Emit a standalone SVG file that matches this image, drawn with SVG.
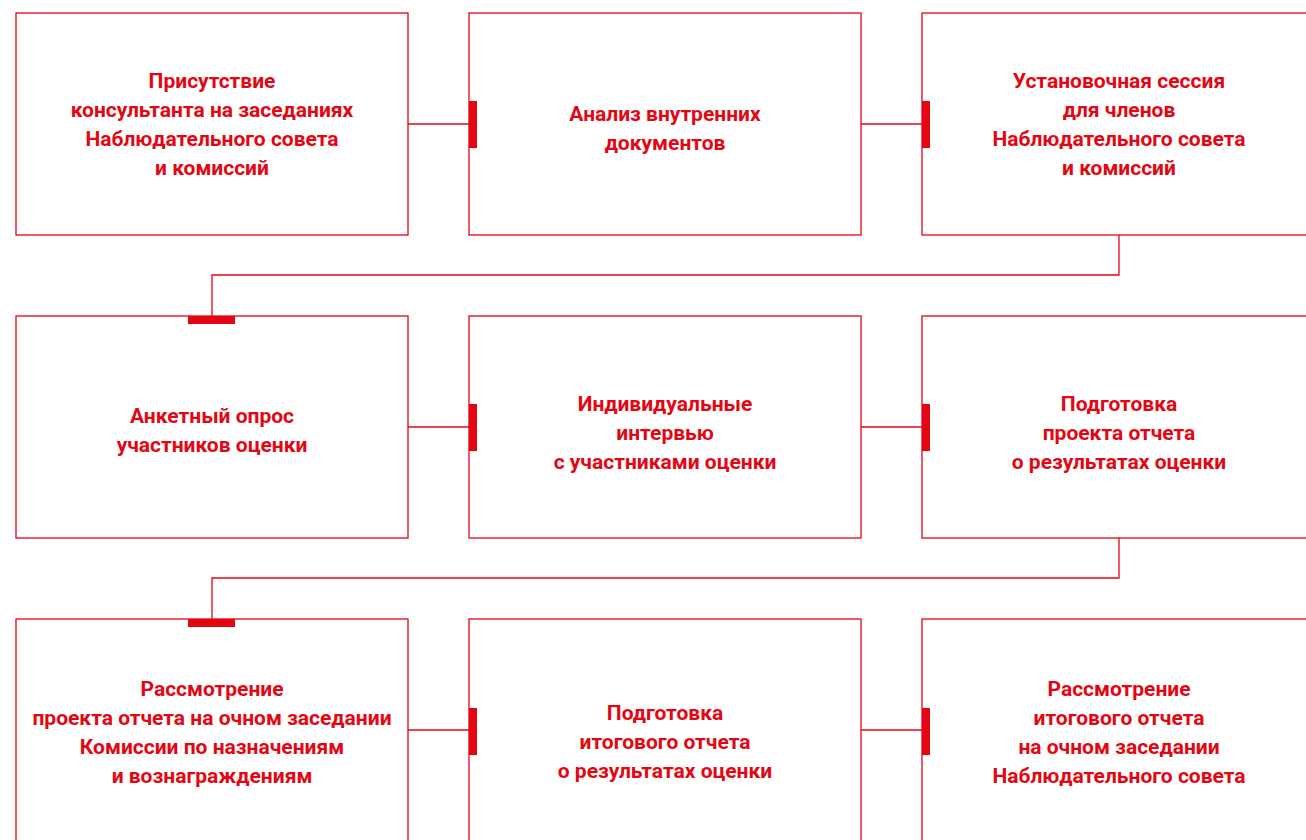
<svg xmlns="http://www.w3.org/2000/svg" width="1306" height="840" viewBox="0 0 1306 840">
<style>
.box{fill:#fff;stroke:#e30613;stroke-width:1.3}
.lbl{font-family:Roboto,"Open Sans","Liberation Sans",sans-serif;font-weight:700;font-size:21px;fill:#e30613;text-anchor:middle}
.con{fill:none;stroke:#e30613;stroke-width:1.3}
.mk{fill:#e30613}
</style>
<rect width="1306" height="840" fill="#fff"/>
<g id="n1"><rect class="box" x="16" y="13" width="392" height="222"/>
<text class="lbl"><tspan x="212" y="88">Присутствие</tspan><tspan x="212" y="117">консультанта на заседаниях</tspan><tspan x="212" y="146">Наблюдательного совета</tspan><tspan x="212" y="175">и комиссий</tspan></text></g>
<g id="n2"><rect class="box" x="469" y="13" width="392" height="222"/>
<text class="lbl"><tspan x="665" y="121">Анализ внутренних</tspan><tspan x="665" y="150">документов</tspan></text></g>
<g id="n3"><rect class="box" x="922" y="13" width="394" height="222"/>
<text class="lbl"><tspan x="1119" y="88">Установочная сессия</tspan><tspan x="1119" y="117">для членов</tspan><tspan x="1119" y="146">Наблюдательного совета</tspan><tspan x="1119" y="175">и комиссий</tspan></text></g>
<g id="n4"><rect class="box" x="16" y="316" width="392" height="222"/>
<text class="lbl"><tspan x="212" y="423">Анкетный опрос</tspan><tspan x="212" y="452">участников оценки</tspan></text></g>
<g id="n5"><rect class="box" x="469" y="316" width="392" height="222"/>
<text class="lbl"><tspan x="665" y="411">Индивидуальные</tspan><tspan x="665" y="440">интервью</tspan><tspan x="665" y="469">с участниками оценки</tspan></text></g>
<g id="n6"><rect class="box" x="922" y="316" width="394" height="222"/>
<text class="lbl"><tspan x="1119" y="411">Подготовка</tspan><tspan x="1119" y="440">проекта отчета</tspan><tspan x="1119" y="469">о результатах оценки</tspan></text></g>
<g id="n7"><rect class="box" x="16" y="619" width="392" height="240"/>
<text class="lbl"><tspan x="212" y="696">Рассмотрение</tspan><tspan x="212" y="725">проекта отчета на очном заседании</tspan><tspan x="212" y="754">Комиссии по назначениям</tspan><tspan x="212" y="783">и вознаграждениям</tspan></text></g>
<g id="n8"><rect class="box" x="469" y="619" width="392" height="240"/>
<text class="lbl"><tspan x="665" y="720">Подготовка</tspan><tspan x="665" y="749">итогового отчета</tspan><tspan x="665" y="778">о результатах оценки</tspan></text></g>
<g id="n9"><rect class="box" x="922" y="619" width="394" height="240"/>
<text class="lbl"><tspan x="1119" y="696">Рассмотрение</tspan><tspan x="1119" y="725">итогового отчета</tspan><tspan x="1119" y="754">на очном заседании</tspan><tspan x="1119" y="783">Наблюдательного совета</tspan></text></g>
<g id="connectors">
<path class="con" d="M408,124H469M861,124H922M408,427H469M861,427H922M408,730H469M861,730H922"/>
<path class="con" d="M1119,235V275H212V316M1119,538V578H212V619"/>
<rect class="mk" x="469" y="101" width="8" height="47"/>
<rect class="mk" x="922" y="101" width="8" height="47"/>
<rect class="mk" x="469" y="404" width="8" height="47"/>
<rect class="mk" x="922" y="404" width="8" height="47"/>
<rect class="mk" x="469" y="708" width="8" height="47"/>
<rect class="mk" x="922" y="708" width="8" height="47"/>
<rect class="mk" x="188" y="316" width="47" height="8"/>
<rect class="mk" x="188" y="619" width="47" height="8"/>
</g>
</svg>
